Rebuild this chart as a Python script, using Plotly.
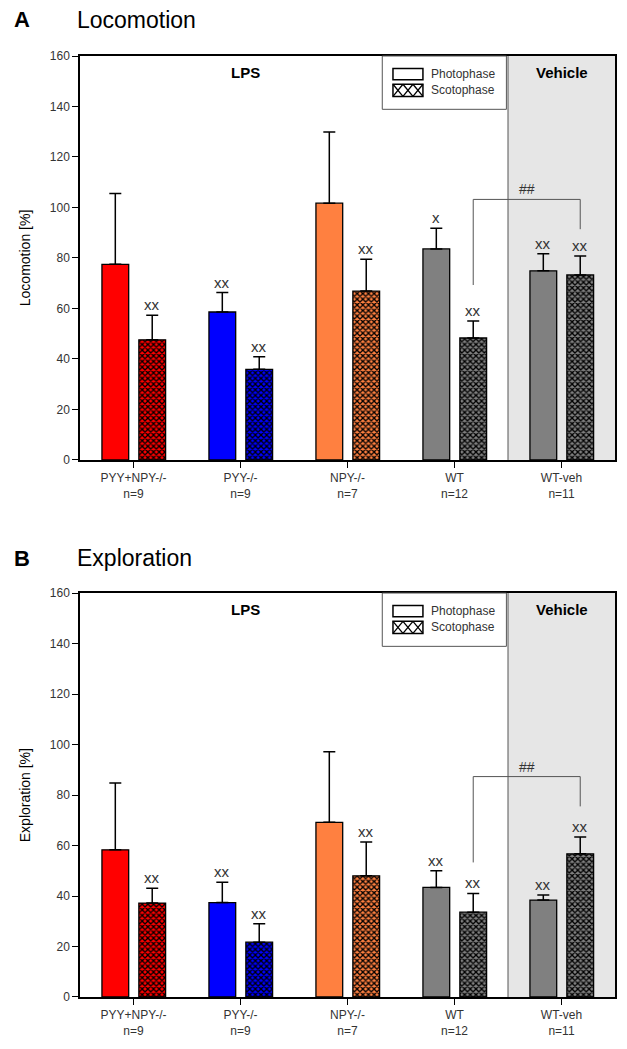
import plotly.graph_objects as go

# ---------------- data ----------------
groups = ["PYY+NPY-/-", "PYY-/-", "NPY-/-", "WT", "WT-veh"]
n_labels = ["n=9", "n=9", "n=7", "n=12", "n=11"]
colors = ["#FF0000", "#0000FF", "#FF8040", "#808080", "#808080"]

loco_photo = [77.5, 58.6, 101.7, 83.6, 74.9]
loco_photo_err = [28.0, 7.7, 28.2, 8.2, 6.8]
loco_scoto = [47.6, 35.9, 66.9, 48.3, 73.3]
loco_scoto_err = [9.7, 5.0, 12.6, 6.7, 7.5]
loco_photo_sig = ["", "xx", "", "x", "xx"]
loco_scoto_sig = ["xx", "xx", "xx", "xx", "xx"]

explo_photo = [58.3, 37.4, 69.2, 43.4, 38.4]
explo_photo_err = [26.5, 8.0, 27.9, 6.6, 2.0]
explo_scoto = [37.2, 21.7, 48.0, 33.6, 56.7]
explo_scoto_err = [5.9, 7.3, 13.4, 7.4, 6.7]
explo_photo_sig = ["", "xx", "", "xx", "xx"]
explo_scoto_sig = ["xx", "xx", "xx", "xx", "xx"]

# bracket: [from group, to group], [top, left end, right end]
bracket_groups = [3, 4]
loco_bracket = [103.2, 69.3, 91.4]
explo_bracket = [87.3, 53.3, 75.5]

y_ticks = [0, 20, 40, 60, 80, 100, 120, 140, 160]

# ---------------- style ----------------
FONT = "Arial, Liberation Sans, sans-serif"
TXT = "#333333"
BAR_W = 0.25
PHOTO_OFF = -0.295
SCOTO_OFF = 0.05
X = list(range(len(groups)))
ticktext = [f"{g}<br>{n}" for g, n in zip(groups, n_labels)]

fig = go.Figure()

panels = [
    dict(xa="x", ya="y", photo=loco_photo, perr=loco_photo_err, scoto=loco_scoto,
         serr=loco_scoto_err, psig=loco_photo_sig, ssig=loco_scoto_sig,
         br=loco_bracket, ytitle="Locomotion [%]"),
    dict(xa="x2", ya="y2", photo=explo_photo, perr=explo_photo_err, scoto=explo_scoto,
         serr=explo_scoto_err, psig=explo_photo_sig, ssig=explo_scoto_sig,
         br=explo_bracket, ytitle="Exploration [%]"),
]

annotations = []
shapes = []

for p in panels:
    xa, ya = p["xa"], p["ya"]
    xdom = xa + " domain"
    ydom = ya + " domain"
    for i in X:
        fig.add_trace(go.Bar(
            x=[X[i]], y=[p["photo"][i]], xaxis=xa, yaxis=ya, width=BAR_W, offset=PHOTO_OFF,
            marker=dict(color=colors[i], line=dict(color="black", width=1.3)),
            error_y=dict(type="data", symmetric=False, array=[p["perr"][i]],
                         arrayminus=[0], color="black", thickness=1.5, width=6),
            showlegend=False, hoverinfo="skip"))
        fig.add_trace(go.Bar(
            x=[X[i]], y=[p["scoto"][i]], xaxis=xa, yaxis=ya, width=BAR_W, offset=SCOTO_OFF,
            marker=dict(color=colors[i], line=dict(color="black", width=1.3),
                        pattern=dict(shape="x", fgcolor="black", bgcolor=colors[i],
                                     size=4, solidity=0.55, fillmode="replace")),
            error_y=dict(type="data", symmetric=False, array=[p["serr"][i]],
                         arrayminus=[0], color="black", thickness=1.5, width=6),
            showlegend=False, hoverinfo="skip"))

    # significance marks
    for i in X:
        for val, err, sig, off in ((p["photo"][i], p["perr"][i], p["psig"][i], PHOTO_OFF),
                                   (p["scoto"][i], p["serr"][i], p["ssig"][i], SCOTO_OFF)):
            if sig:
                annotations.append(dict(
                    x=i + off + BAR_W / 2, y=val + err, xref=xa, yref=ya,
                    text=sig, showarrow=False, yanchor="bottom", yshift=0,
                    font=dict(family=FONT, size=15, color=TXT)))

    # vehicle shaded region
    shapes.append(dict(type="rect", xref=xa, yref=ydom, x0=3.5, x1=4.5, y0=0, y1=1,
                       fillcolor="#E6E6E6", line=dict(width=0), layer="below"))
    shapes.append(dict(type="line", xref=xa, yref=ydom, x0=3.5, x1=3.5, y0=0, y1=1,
                       line=dict(color="#555555", width=1), layer="above"))

    # bracket
    bx0 = bracket_groups[0] + SCOTO_OFF + BAR_W / 2
    bx1 = bracket_groups[1] + SCOTO_OFF + BAR_W / 2
    top, lo, ro = p["br"]
    shapes.append(dict(type="path", xref=xa, yref=ya,
                       path=f"M {bx0} {lo} L {bx0} {top} L {bx1} {top} L {bx1} {ro}",
                       line=dict(color="#555555", width=1)))
    annotations.append(dict(x=(bx0 + bx1) / 2, y=top, xref=xa, yref=ya, text="##",
                            showarrow=False, yanchor="bottom", yshift=0,
                            font=dict(family=FONT, size=14, color=TXT)))

    # legend box
    shapes.append(dict(type="rect", xref=xdom, yref=ydom, x0=0.565, x1=0.797, y0=0.868, y1=1,
                       fillcolor="white", line=dict(color="#555555", width=1), layer="above"))
    sx0, sx1 = 0.585, 0.641
    shapes.append(dict(type="rect", xref=xdom, yref=ydom, x0=sx0, x1=sx1, y0=0.941, y1=0.969,
                       fillcolor="white", line=dict(color="black", width=1.5), layer="above"))
    shapes.append(dict(type="rect", xref=xdom, yref=ydom, x0=sx0, x1=sx1, y0=0.900, y1=0.930,
                       fillcolor="white", line=dict(color="black", width=1.5), layer="above"))
    cw = (sx1 - sx0) / 3
    for k in range(3):
        a = sx0 + k * cw
        shapes.append(dict(type="line", xref=xdom, yref=ydom, x0=a, x1=a + cw, y0=0.900, y1=0.930,
                           line=dict(color="black", width=1.3), layer="above"))
        shapes.append(dict(type="line", xref=xdom, yref=ydom, x0=a, x1=a + cw, y0=0.930, y1=0.900,
                           line=dict(color="black", width=1.3), layer="above"))
    annotations.append(dict(x=0.652, y=0.956, xref=xdom, yref=ydom, text="Photophase",
                            showarrow=False, xanchor="left", yanchor="middle",
                            font=dict(family=FONT, size=12, color=TXT)))
    annotations.append(dict(x=0.652, y=0.915, xref=xdom, yref=ydom, text="Scotophase",
                            showarrow=False, xanchor="left", yanchor="middle",
                            font=dict(family=FONT, size=12, color=TXT)))

    # group labels
    annotations.append(dict(x=0.278, y=0.958, xref=xdom, yref=ydom, text="<b>LPS</b>",
                            showarrow=False, yanchor="middle",
                            font=dict(family=FONT, size=15, color="black")))
    annotations.append(dict(x=4.0, y=0.958, xref=xa, yref=ydom, text="<b>Vehicle</b>",
                            showarrow=False, yanchor="middle",
                            font=dict(family=FONT, size=15, color="black")))

    # y title
    annotations.append(dict(x=-0.1024, y=0.5, xref=xdom, yref=ydom, text=p["ytitle"],
                            showarrow=False, textangle=-90, xanchor="center", yanchor="middle",
                            font=dict(family=FONT, size=14, color="black")))

# panel titles
annotations.append(dict(x=-0.127, y=1.0383, xref="paper", yref="paper", text="<b>A</b>",
                        showarrow=False, xanchor="left", yanchor="middle",
                        font=dict(family=FONT, size=22, color="black")))
annotations.append(dict(x=-0.0093, y=1.0383, xref="paper", yref="paper", text="Locomotion",
                        showarrow=False, xanchor="left", yanchor="middle",
                        font=dict(family=FONT, size=23, color="black")))
annotations.append(dict(x=-0.127, y=0.4662, xref="paper", yref="paper", text="<b>B</b>",
                        showarrow=False, xanchor="left", yanchor="middle",
                        font=dict(family=FONT, size=22, color="black")))
annotations.append(dict(x=-0.0093, y=0.4662, xref="paper", yref="paper", text="Exploration",
                        showarrow=False, xanchor="left", yanchor="middle",
                        font=dict(family=FONT, size=23, color="black")))

xaxis_common = dict(range=[-0.5, 4.5], tickmode="array", tickvals=X, ticktext=ticktext,
                    ticks="outside", ticklen=6, tickwidth=1.2, tickcolor="black",
                    showline=True, linecolor="black", linewidth=1.5, mirror=True,
                    showgrid=False, zeroline=False,
                    tickfont=dict(family=FONT, size=12, color=TXT))
yaxis_common = dict(range=[0, 160], tickmode="array", tickvals=y_ticks,
                    ticks="outside", ticklen=6, tickwidth=1.2, tickcolor="black",
                    showline=True, linecolor="black", linewidth=1.5, mirror=True,
                    showgrid=False, zeroline=False,
                    tickfont=dict(family=FONT, size=12, color=TXT))

# page body has an 8px default margin, so the figure is 8px smaller than the window
fig.update_layout(
    width=619, height=1041,
    margin=dict(l=72, r=10, t=48, b=52),
    paper_bgcolor="white", plot_bgcolor="white",
    barmode="overlay", showlegend=False,
    xaxis=dict(**xaxis_common, domain=[0, 1], anchor="y"),
    yaxis=dict(**yaxis_common, domain=[0.5707, 1], anchor="x"),
    xaxis2=dict(**xaxis_common, domain=[0, 1], anchor="y2"),
    yaxis2=dict(**yaxis_common, domain=[0, 0.4293], anchor="x2"),
    annotations=annotations, shapes=shapes,
)

fig.write_html("out.html")
